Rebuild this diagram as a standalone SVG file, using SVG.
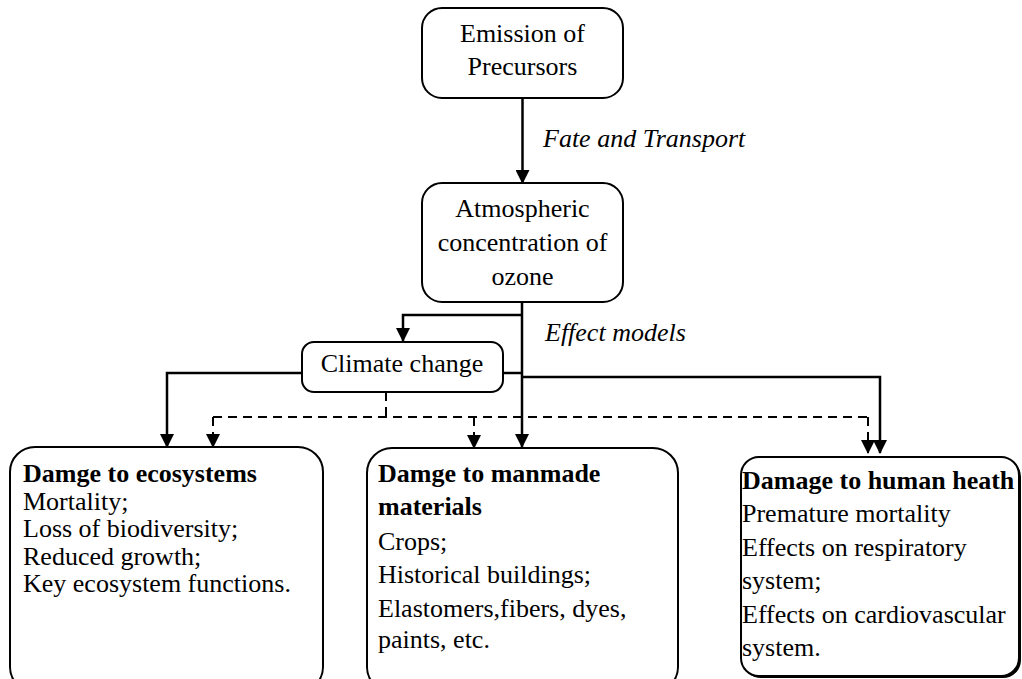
<svg xmlns="http://www.w3.org/2000/svg" width="1022" height="679" viewBox="0 0 1022 679">
<style>
.box{fill:#fff;stroke:#000;stroke-width:2}
.t{font-family:"Liberation Serif","Times New Roman",serif;font-size:26px;fill:#000}
.c{text-anchor:middle}
.b{font-weight:bold}
.i{font-style:italic}
.ln{fill:none;stroke:#000;stroke-width:2.5}
.ds{fill:none;stroke:#000;stroke-width:2;stroke-dasharray:9,6}
</style>
<defs>
<marker id="ah" markerWidth="16" markerHeight="14" refX="13" refY="7" orient="auto" markerUnits="userSpaceOnUse">
<path d="M0,0 L14,7 L0,14 Z" fill="#000"/>
</marker>
</defs>
<rect width="1022" height="679" fill="#fff"/>
<g id="connectors">
<line class="ln" x1="522.5" y1="98" x2="522.5" y2="183" marker-end="url(#ah)"/>
<polyline class="ln" points="522,302 522,447" marker-end="url(#ah)"/>
<polyline class="ln" points="522,315 403,315 403,341" marker-end="url(#ah)"/>
<polyline class="ln" points="503,373 522,373"/>
<polyline class="ln" points="522,377 880,377 880,453" marker-end="url(#ah)"/>
<polyline class="ln" points="302,373 167,373 167,447" marker-end="url(#ah)"/>
<polyline class="ds" points="386,392 386,417"/>
<polyline class="ds" points="213,417 868,417"/>
<polyline class="ds" points="213,417 213,447" marker-end="url(#ah)"/>
<polyline class="ds" points="474,417 474,448" marker-end="url(#ah)"/>
<polyline class="ds" points="868,417 868,453" marker-end="url(#ah)"/>
</g>
<g id="label-fate"><text class="t i" x="543" y="147">Fate and Transport</text></g>
<g id="label-effect"><text class="t i" x="545" y="341">Effect models</text></g>
<g id="emission">
<rect class="box" x="422" y="8" width="201" height="90" rx="20"/>
<text class="t c" x="522.5" y="42">Emission of</text>
<text class="t c" x="522.5" y="75">Precursors</text>
</g>
<g id="ozone">
<rect class="box" x="422" y="183" width="201" height="119" rx="20"/>
<text class="t c" x="522.5" y="217">Atmospheric</text>
<text class="t c" x="522.5" y="251">concentration of</text>
<text class="t c" x="522.5" y="285">ozone</text>
</g>
<g id="climate">
<rect class="box" x="302" y="342" width="201" height="50" rx="12"/>
<text class="t c" x="402" y="372">Climate change</text>
</g>
<g id="ecosystems">
<rect class="box" x="10" y="447" width="313" height="245" rx="25"/>
<text class="t" x="23"><tspan class="b" x="23" y="482">Damge to ecosystems</tspan><tspan x="23" y="510">Mortality;</tspan><tspan x="23" y="537">Loss of biodiversity;</tspan><tspan x="23" y="565">Reduced growth;</tspan><tspan x="23" y="592">Key ecosystem functions.</tspan></text>
</g>
<g id="manmade">
<rect class="box" x="367" y="448" width="311" height="244" rx="25"/>
<text class="t" x="378"><tspan class="b" x="378" y="482">Damge to manmade</tspan><tspan class="b" x="378" y="515">materials</tspan><tspan x="378" y="550">Crops;</tspan><tspan x="378" y="583">Historical buildings;</tspan><tspan x="378" y="617">Elastomers,fibers, dyes,</tspan><tspan x="378" y="648">paints, etc.</tspan></text>
</g>
<g id="health">
<rect x="743" y="459" width="278" height="219" rx="18" fill="#000"/>
<rect class="box" x="741" y="457" width="278" height="219" rx="18"/>
<text class="t" x="742"><tspan class="b" x="742" y="489">Damage to human heath</tspan><tspan x="742" y="522">Premature mortality</tspan><tspan x="742" y="556">Effects on respiratory</tspan><tspan x="742" y="589">system;</tspan><tspan x="742" y="623">Effects on cardiovascular</tspan><tspan x="742" y="656">system.</tspan></text>
</g>
</svg>
